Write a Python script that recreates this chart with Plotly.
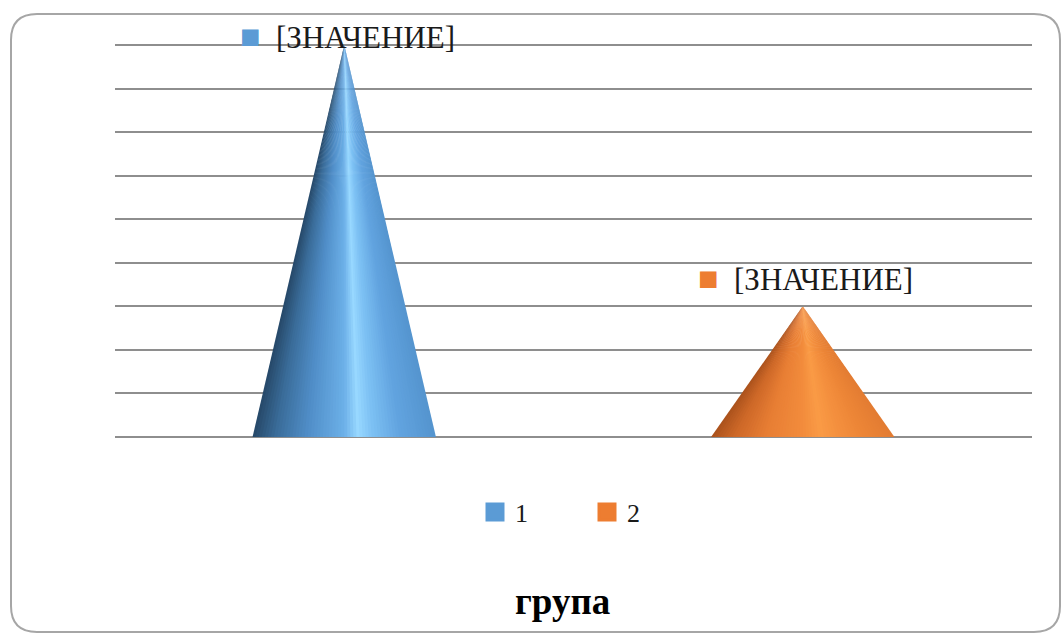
import plotly.graph_objects as go
import numpy as np

# ---- data ----
categories = ["1", "2"]
values = [9, 3]
series_colors = ["#5b9bd5", "#ed7d31"]
label_texts = ["[ЗНАЧЕНИЕ]", "[ЗНАЧЕНИЕ]"]
axis_title = "група"
y_max = 9

# shading stops (position across base -1..1, colour) for each cone
shade_stops = [
    [(-1.0, (38, 72, 104)), (-0.75, (58, 108, 153)), (-0.4, (80, 142, 200)),
     (0.0, (108, 176, 232)), (0.15, (152, 216, 255)), (0.3, (126, 194, 244)),
     (0.6, (98, 164, 224)), (1.0, (84, 148, 206))],
    [(-1.0, (170, 82, 28)), (-0.75, (205, 104, 40)), (-0.4, (232, 126, 52)),
     (0.0, (242, 140, 60)), (0.2, (250, 155, 70)), (0.4, (244, 144, 62)),
     (0.7, (236, 132, 54)), (1.0, (226, 124, 50))],
]

def shade(stops, u):
    for (a, ca), (b, cb) in zip(stops[:-1], stops[1:]):
        if a <= u <= b:
            t = (u - a) / (b - a)
            c = [int(round(ca[i] + (cb[i] - ca[i]) * t)) for i in range(3)]
            return "rgb(%d,%d,%d)" % tuple(c)
    c = stops[-1][1]
    return "rgb(%d,%d,%d)" % c

fig = go.Figure()

half_w = 0.2
n_strips = 60
for ci, (cat, val) in enumerate(zip(categories, values)):
    xc = ci
    edges = np.linspace(-1, 1, n_strips + 1)
    step = edges[1] - edges[0]
    for k in range(n_strips):
        u0, u1 = edges[k], edges[k + 1]
        u1e = min(u1 + 0.6 * step, 1.0) if k < n_strips - 1 else u1
        col = shade(shade_stops[ci], (u0 + u1) / 2)
        fig.add_trace(go.Scatter(
            x=[xc + u0 * half_w, xc + u1e * half_w, xc, xc + u0 * half_w],
            y=[0, 0, val, 0],
            mode="lines", fill="toself", fillcolor=col,
            line=dict(color=col, width=0),
            hoverinfo="skip", showlegend=False))

# legend entries
for cat, col in zip(categories, series_colors):
    fig.add_trace(go.Scatter(
        x=[None], y=[None], mode="markers", name=cat,
        marker=dict(symbol="square", size=16, color=col,
                    line=dict(color=col, width=3))))

# data labels
label_shift = [9, 28]
for ci, (val, txt, col) in enumerate(zip(values, label_texts, series_colors)):
    fig.add_annotation(
        x=ci, y=val, xref="x", yref="y",
        text='<span style="color:%s;font-size:34px">■</span>&nbsp;&nbsp;%s' % (col, txt),
        showarrow=False, yshift=label_shift[ci], xshift=3,
        font=dict(family="Liberation Serif", size=31, color="#1a1a1a"))

# layout geometry (pixels)
L, R, T, B = 115, 1032, 41, 437
top_grid_px = 45
y_top = y_max * (B - T) / (B - top_grid_px)

def px(x):
    return (x - L) / (R - L)
def py(y):
    return (B - y) / (B - T)

# axis title
fig.add_annotation(
    x=px(562), y=py(601), xref="paper", yref="paper", yanchor="middle",
    text="<b>%s</b>" % axis_title, showarrow=False,
    font=dict(family="Liberation Serif", size=37, color="#000000"))

# rounded border (paper coords)
x0, x1, yt, yb = px(11), px(1060), py(14), py(632)
rx, ry = 26 / (R - L), 26 / (B - T)
path = (f"M {x0+rx},{yt} L {x1-rx},{yt} Q {x1},{yt} {x1},{yt-ry} "
        f"L {x1},{yb+ry} Q {x1},{yb} {x1-rx},{yb} "
        f"L {x0+rx},{yb} Q {x0},{yb} {x0},{yb+ry} "
        f"L {x0},{yt-ry} Q {x0},{yt} {x0+rx},{yt} Z")
fig.add_shape(type="path", path=path, xref="paper", yref="paper",
              line=dict(color="#a6a6a6", width=2), layer="below")

fig.update_layout(
    width=1062, height=633,
    margin=dict(l=L, r=1062 - R, t=T, b=633 - B),
    paper_bgcolor="white", plot_bgcolor="white",
    xaxis=dict(range=[-0.5, 1.5], showgrid=False, zeroline=False,
               showticklabels=False, ticks="", fixedrange=True),
    yaxis=dict(range=[0, y_top], dtick=1, showgrid=True,
               gridcolor="#8e8e8e", gridwidth=2, zeroline=True,
               zerolinecolor="#8e8e8e", zerolinewidth=2,
               showticklabels=False, ticks="", fixedrange=True),
    legend=dict(orientation="h", x=px(475), xanchor="left", y=py(512),
                yanchor="middle",
                font=dict(family="Liberation Serif", size=26, color="#1a1a1a"),
                itemwidth=30, entrywidth=67, bgcolor="rgba(0,0,0,0)"),
    showlegend=True,
)

fig.write_html("out.html")
